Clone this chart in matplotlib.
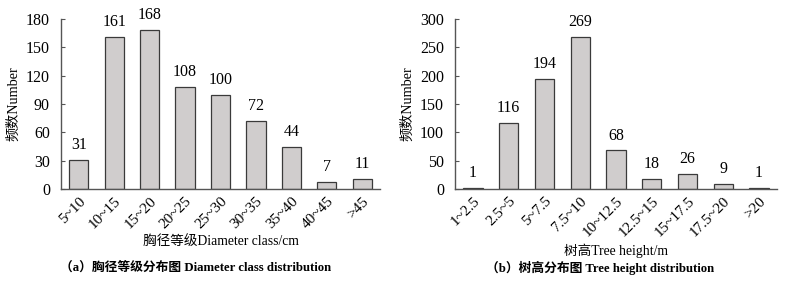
import matplotlib
matplotlib.use("Agg")
import matplotlib.pyplot as plt

plt.rcParams['font.family'] = ['Liberation Serif', 'Noto Sans CJK SC']

diam_classes = ["5~10", "10~15", "15~20", "20~25", "25~30", "30~35", "35~40", "40~45", ">45"]
diam_counts = [31, 161, 168, 108, 100, 72, 44, 7, 11]
diam_yticks = [0, 30, 60, 90, 120, 150, 180]

height_classes = ["1~2.5", "2.5~5", "5~7.5", "7.5~10", "10~12.5", "12.5~15", "15~17.5", "17.5~20", ">20"]
height_counts = [1, 116, 194, 269, 68, 18, 26, 9, 1]
height_yticks = [0, 50, 100, 150, 200, 250, 300]

fig = plt.figure(figsize=(7.91, 2.81), dpi=100)
W, H = 791, 281
ax1 = fig.add_axes([61 / W, 1 - 189 / H, 319 / W, 170 / H])
ax2 = fig.add_axes([455 / W, 1 - 189 / H, 322 / W, 170 / H])

bar_color = "#d0cdcd"
edge = "#3a3a3a"
spine_c = "#555555"

def draw(ax, cats, vals, yticks, xlabel, caption, cap_x):
    x = range(len(cats))
    ax.bar(x, vals, width=0.54, color=bar_color, edgecolor=edge, linewidth=0.9)
    for xi, v in zip(x, vals):
        ax.annotate(str(v), (xi, v), xytext=(0, 5), textcoords="offset points",
                    ha="center", va="bottom", fontsize=11.5)
    ax.set_xlim(-0.5, len(cats) - 0.5)
    ax.set_ylim(yticks[0], yticks[-1])
    ax.set_yticks(yticks)
    ax.set_xticks(list(x))
    ax.set_xticklabels(cats, rotation=45, ha="right", rotation_mode="anchor", fontsize=11)
    ax.tick_params(axis="x", length=0, pad=4)
    ax.tick_params(axis="y", direction="in", length=3, color=spine_c, labelsize=11.5, pad=8)
    for s in ("top", "right"):
        ax.spines[s].set_visible(False)
    for s in ("left", "bottom"):
        ax.spines[s].set_color(spine_c)
        ax.spines[s].set_linewidth(1.0)
    ax.set_ylabel("频数Number", fontsize=10.2, labelpad=4)
    ax.set_xlabel(xlabel, fontsize=9.8, labelpad=3)
    fig.text(cap_x / W, 1 - 268 / H, caption, ha="center", va="center", fontsize=9.2,
             fontweight="bold")

draw(ax1, diam_classes, diam_counts, diam_yticks, "胸径等级Diameter class/cm",
     "（a）胸径等级分布图 Diameter class distribution", 196)
draw(ax2, height_classes, height_counts, height_yticks, "树高Tree height/m",
     "（b）树高分布图 Tree height distribution", 600)

fig.savefig("out.png", dpi=100)
